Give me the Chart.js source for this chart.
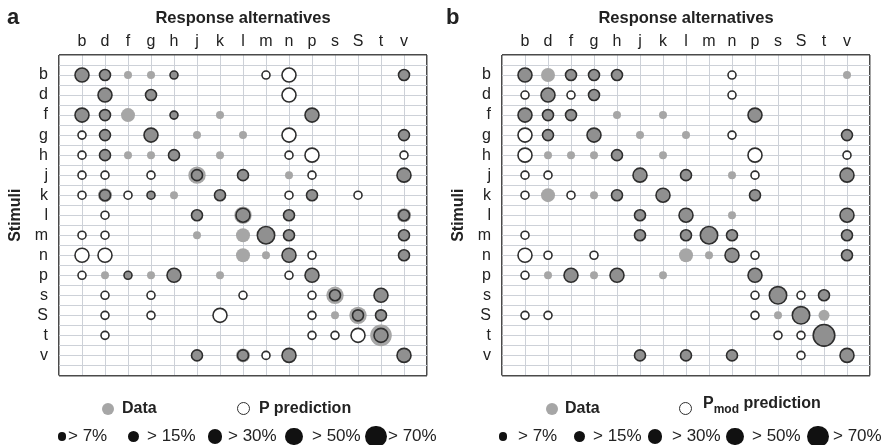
<!DOCTYPE html>
<html>
<head>
<meta charset="utf-8">
<title>Consonant confusions</title>
<script src="https://cdn.jsdelivr.net/npm/chart.js@4.4.1/dist/chart.umd.min.js"></script>
<style>
  html, body { margin: 0; padding: 0; background: #fff; }
  body { width: 885px; height: 445px; position: relative; overflow: hidden;
         font-family: 'Liberation Sans', Arial, sans-serif; color: #222; }
  canvas { position: absolute; top: 0; }
  #chartA { left: 0; }
  #chartB { left: 443px; }
  .lbl { position: absolute; line-height: 1; white-space: nowrap; }
  .panel { font-size: 22px; font-weight: bold; }
  .key { font-size: 16px; font-weight: bold; }
  .key sub { font-size: 12px; vertical-align: -5px; }
  .size { font-size: 17px; }
  .dot { position: absolute; border-radius: 50%; box-sizing: border-box; }
</style>
</head>
<body>
<canvas id="chartA" width="440" height="396"></canvas>
<canvas id="chartB" width="440" height="396"></canvas>
<script>
const LETTERS = ['b', 'd', 'f', 'g', 'h', 'j', 'k', 'l', 'm', 'n', 'p', 's', 'S', 't', 'v'];
const SIZE_LABELS = ['> 7%', '> 15%', '> 30%', '> 50%', '> 70%'];

// size class of each cell: 0 = none, 1..5 = >7% .. >70%
// one string per stimulus row, one character per response column
const dataA = [
  '321110000000002', '030200000000000', '323010100030000', '020301010000002',
  '021120100000000', '000004020100003', '030110200020000', '000002040200003',
  '000001034200002', '000000031300002', '011130100030000', '000000000004030',
  '000000000001420', '000000000000050', '000002030300003'
];
const predA = [
  '320010001300002', '030200000300000', '320010000030000', '120300000300002',
  '120020000130001', '110102020010003', '121100200120100', '010002030200002',
  '110000004200002', '330000000310002', '101030000130000', '010100010012030',
  '010100300010220', '010000000011330', '000002021300003'
];
const dataB = [
  '332220000000001', '030200000000000', '322010100030000', '020301010000002',
  '011120100000000', '000003020100003', '030120300020000', '000002030100003',
  '000002024200002', '000000031300002', '013130100030000', '000000000004020',
  '000000000001420', '000000000000050', '000002020200003'
];
const predB = [
  '302220000100000', '131200000100000', '322000000030000', '320300000100002',
  '300020000030001', '110003020010003', '101020300020000', '000002030000003',
  '100002024200002', '310100000310002', '103030000030000', '000000000014120',
  '110000000010400', '000000000001150', '000002020200103'
];

const RADII = [0, 4, 5.5, 7, 8.7, 10.8];
const GREY = '#a6a6a6';
const INK = '#2e2e2e';

Chart.defaults.font.family = "'Liberation Sans', Arial, sans-serif";
Chart.defaults.color = '#222';

function edge(ctx) {
  return ctx.tick && (ctx.tick.value === -1 || ctx.tick.value === 15);
}

function makeChart(id, dataRows, predRows) {
  const dataPts = [], predPts = [], predFill = [];
  dataRows.forEach((row, y) => {
    for (let x = 0; x < row.length; x++) {
      const d = +row[x], p = +predRows[y][x];
      if (d) dataPts.push({ x: x, y: y, r: RADII[d] });
      if (p) {
        predPts.push({ x: x, y: y, r: RADII[p] });
        // open circle is white on its own, darkens the grey where both exist
        predFill.push(d ? 'rgba(30,30,30,0.16)' : '#ffffff');
      }
    }
  });

  const label = v => (Number.isInteger(v) && v >= 0 && v < LETTERS.length) ? LETTERS[v] : '';
  const grid = {
    drawTicks: false,
    color: ctx => edge(ctx) ? '#4a4a4a' : '#cdd1d8',
    lineWidth: ctx => edge(ctx) ? 1.5 : 1
  };

  return new Chart(document.getElementById(id), {
    type: 'bubble',
    data: {
      datasets: [
        { label: 'Prediction', data: predPts, backgroundColor: predFill,
          borderColor: INK, borderWidth: 1.6, order: 1 },
        { label: 'Data', data: dataPts, backgroundColor: GREY,
          borderWidth: 0, order: 2 }
      ]
    },
    options: {
      responsive: false,
      animation: false,
      events: [],
      layout: { padding: { top: 0, right: 13, bottom: 14, left: 0 } },
      plugins: { legend: { display: false }, tooltip: { enabled: false } },
      scales: {
        x: {
          type: 'linear', position: 'top', min: -1, max: 15,
          ticks: { stepSize: 1, autoSkip: false, maxRotation: 0, padding: 4,
                   font: { size: 16 }, callback: label },
          grid: grid,
          border: { display: false },
          title: { display: true, text: 'Response alternatives',
                   font: { size: 16.5, weight: 'bold' }, padding: { top: 9, bottom: 0 } },
          afterFit: s => { s.height = 55; }
        },
        y: {
          type: 'linear', position: 'left', reverse: true, min: -1, max: 15,
          ticks: { stepSize: 0.5, autoSkip: false, padding: 11,
                   font: { size: 16 }, callback: label },
          grid: grid,
          border: { display: false },
          title: { display: true, text: 'Stimuli',
                   font: { size: 16, weight: 'bold' }, padding: { top: 6, bottom: 0 } },
          afterFit: s => { s.width = 59; }
        }
      }
    }
  });
}

makeChart('chartA', dataA, predA);
makeChart('chartB', dataB, predB);

// ---- panel letters and legends (html) ----
function addText(x, top, html, cls) {
  const el = document.createElement('div');
  el.className = 'lbl ' + cls;
  el.style.left = x + 'px';
  el.style.top = top + 'px';
  el.innerHTML = html;
  document.body.appendChild(el);
}
function addDot(cx, cy, r, fill, border) {
  const el = document.createElement('div');
  el.className = 'dot';
  el.style.left = (cx - r) + 'px';
  el.style.top = (cy - r) + 'px';
  el.style.width = el.style.height = (2 * r) + 'px';
  el.style.background = fill;
  if (border) el.style.border = border;
  document.body.appendChild(el);
}

addText(7, 6, 'a', 'panel');
addText(446, 6, 'b', 'panel');

const legends = [
  { dataDot: 108, dataText: 122, predDot: 243, predText: 259, predTop: 399.5,
    predLabel: 'P prediction',
    sizeDots: [62, 133, 215, 294, 376], sizeTexts: [68, 147, 228, 312, 388] },
  { dataDot: 552, dataText: 565, predDot: 685, predText: 703, predTop: 394.5,
    predLabel: 'P<sub>mod</sub> prediction',
    sizeDots: [503, 579, 655, 735, 818], sizeTexts: [518, 593, 672, 752, 833] }
];
const legendR = [4.3, 5.5, 7.2, 8.7, 10.8];

legends.forEach(lg => {
  addDot(lg.dataDot, 408.5, 6, GREY);
  addText(lg.dataText, 399.5, 'Data', 'key');
  addDot(lg.predDot, 408.5, 6.5, '#fff', '1.5px solid ' + INK);
  addText(lg.predText, lg.predTop, lg.predLabel, 'key');
  SIZE_LABELS.forEach((t, i) => {
    addDot(lg.sizeDots[i], 436.5, legendR[i], '#111');
    addText(lg.sizeTexts[i], 426.5, t.replace('>', '&gt;'), 'size');
  });
});
</script>
</body>
</html>
